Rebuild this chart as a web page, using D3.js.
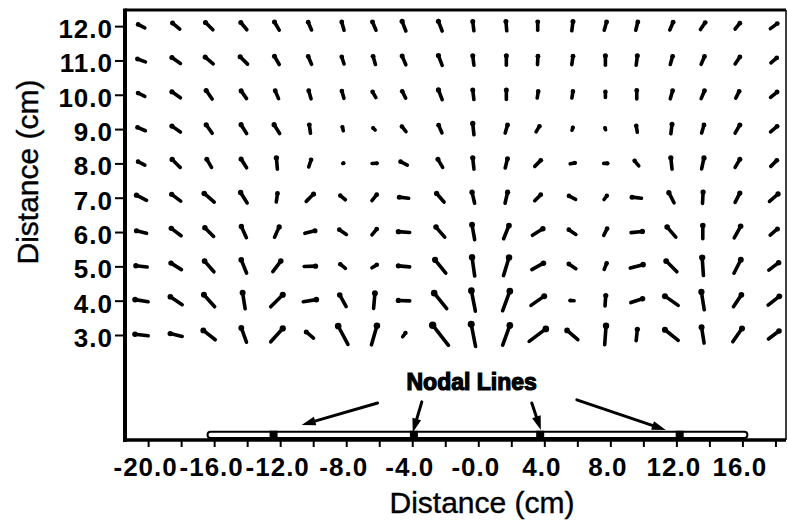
<!DOCTYPE html>
<html>
<head>
<meta charset="utf-8">
<script src="https://cdn.jsdelivr.net/npm/d3@7"></script>
<style>
  html, body { margin: 0; padding: 0; background: #fff; }
  svg { display: block; }
  text { font-family: "Liberation Sans", Arial, Helvetica, sans-serif; fill: #000; }
</style>
</head>
<body>
<svg id="chart" width="788" height="526"></svg>
<script>
// Measurement grid: horizontal position of each column (cm) and row heights (cm)
const colX = [-20.4, -18.3, -16.3, -14.2, -12.2, -10.2, -8.2, -6.3, -4.5, -2.3,
              -0.3, 1.7, 3.6, 5.7, 7.7, 9.6, 11.7, 13.6, 15.7, 17.9];
const rowY = [12, 11, 10, 9, 8, 7, 6, 5, 4, 3];

// Direction of the needle head, degrees clockwise from vertical (one array per row)
const angle12 = [-63, -50, -45, -40, -30, -23, -16, -23, -21, -21, -7, -5, 0, 7, 16, 14, 23, 34, 39, 54];
const angle11 = [-70, -55, -50, -45, -30, -23, -18, -16, -23, -21, -7, 0, 3, 8, 0, 7, 16, 23, 34, 50];
const angle10 = [-63, -55, -35, -35, -23, -16, -16, -30, -27, -21, -7, 0, 9, 9, 0, 0, 16, 23, 27, 50];
const angle9  = [-67, -55, -35, -32, -32, -8, -14, -45, -39, -23, -6, 16, 31, 18, -18, -9, 7, 16, 30, 50];
const angle8  = [-63, -45, -30, -32, -5, 18, 70, 88, -63, -30, -6, 14, 45, 79, 90, -39, -6, 12, 30, 45];
const angle7  = [-63, -53, -49, -32, 8, 45, -51, 39, -83, -41, -13, 13, 45, -63, 37, -83, -27, 3, 27, 49];
const angle6  = [-76, -53, -45, -24, 24, 76, -56, 39, -86, -41, -10, 22, 58, -56, 27, 84, -41, 0, 29, 50];
const angle5  = [-84, -58, -41, -22, 37, 88, -51, 59, -85, -39, -8, 17, 61, -56, 22, 75, -45, -4, 27, 53];
const angle4  = [-81, -56, -42, -9, 45, 81, -29, 5, -88, -39, -11, 20, 55, -85, 4, 72, -55, -9, 34, 52];
const angle3  = [-84, -77, -52, -20, 42, -50, -28, 16, 37, -38, -11, 20, 53, -49, 4, 6, -51, -9, 35, 53];

// Relative amplitude at each grid point (one array per row)
const amp12 = [1.1, 1.3, 1.4, 1.3, 1.3, 1.2, 1.2, 1.25, 1.4, 1.4, 1.3, 1.3, 1.2, 1.3, 1.2, 1.2, 1.2, 1.2, 1.1, 1.2];
const amp11 = [1.2, 1.4, 1.4, 1.4, 1.3, 1.2, 1.1, 1.2, 1.3, 1.4, 1.3, 1.3, 1.2, 1.2, 1.3, 1.3, 1.2, 1.2, 1.2, 1.1];
const amp10 = [1.1, 1.4, 1.4, 1.3, 1.2, 1.2, 1.1, 1.0, 1.1, 1.4, 1.3, 1.3, 1.0, 1.0, 0.9, 1.2, 1.2, 1.2, 1.1, 1.2];
const amp9  = [1.2, 1.4, 1.4, 1.4, 1.4, 1.2, 0.7, 0.6, 1.0, 1.2, 1.5, 1.2, 1.0, 0.6, 0.5, 1.0, 1.3, 1.2, 1.3, 1.2];
const amp8  = [1.1, 1.5, 1.3, 1.4, 1.5, 1.1, 0.4, 0.8, 1.1, 1.3, 1.5, 1.3, 1.2, 0.8, 0.7, 1.0, 1.5, 1.5, 1.3, 1.2];
const amp7  = [1.5, 1.5, 1.7, 1.6, 1.2, 1.4, 1.0, 1.1, 1.3, 1.5, 1.5, 1.5, 1.2, 1.1, 0.8, 1.3, 1.5, 1.5, 1.4, 1.5];
const amp6  = [1.4, 1.6, 1.6, 1.6, 1.5, 1.4, 1.2, 1.1, 1.5, 1.7, 1.9, 1.8, 1.6, 1.2, 1.1, 1.5, 1.7, 1.7, 1.7, 1.3];
const amp5  = [1.5, 1.6, 1.8, 1.8, 1.7, 1.5, 1.0, 0.9, 1.5, 2.1, 2.3, 2.3, 1.7, 1.2, 1.0, 1.7, 1.9, 2.2, 1.9, 1.6];
const amp4  = [1.7, 1.8, 2.0, 2.0, 2.1, 1.7, 1.7, 1.9, 1.5, 2.4, 2.5, 2.5, 2.0, 0.7, 1.4, 1.6, 2.0, 2.2, 1.8, 1.8];
const amp3  = [1.7, 1.6, 1.9, 1.9, 2.2, 1.3, 2.5, 2.4, 0.8, 3.0, 2.7, 2.5, 2.5, 1.8, 2.3, 1.5, 2.1, 2.0, 2.0, 1.7];

const angleRows = [angle12, angle11, angle10, angle9, angle8, angle7, angle6, angle5, angle4, angle3];
const ampRows = [amp12, amp11, amp10, amp9, amp8, amp7, amp6, amp5, amp4, amp3];

// Axis ticks
const xTickValues = [-20, -18, -16, -14, -12, -10, -8, -6, -4, -2, 0, 2, 4, 6, 8, 10, 12, 14, 16, 18];
const xTickLabels = ["-20.0", "", "-16.0", "", "-12.0", "", "-8.0", "", "-4.0", "", "-0.0", "",
                     "4.0", "", "8.0", "", "12.0", "", "16.0", ""];
const yTickValues = [3, 4, 5, 6, 7, 8, 9, 10, 11, 12];
const yTickLabels = ["3.0", "4.0", "5.0", "6.0", "7.0", "8.0", "9.0", "10.0", "11.0", "12.0"];

// Source strip and its nodal lines (cm)
const stripExtent = [-16.4, 16.3];
const stripHeight = [0, 0.18];
const nodalX = [-12.4, -3.9, 3.75, 12.2];
const calloutText = "Nodal Lines";
const calloutPos = [-0.4, 1.4];
const calloutFrom = [[-6.1, 1.02], [-3.42, 1.05], [3.24, 1.02], [5.97, 1.11]];
const calloutTo   = [[-10.7, 0.38], [-3.97, 0.16], [3.79, 0.23], [11.36, 0.23]];

const svg = d3.select("#chart");
const plotLeft = 125, plotRight = 786, plotTop = 10, plotBottom = 440;

const x = d3.scaleLinear().domain([-21.4, 18.64]).range([plotLeft, plotRight]);
const y = d3.scaleLinear().domain([-0.06, 12.47]).range([plotBottom, plotTop]);
const len = d3.scaleLinear().domain([0, 1]).range([0, 10]);

// Axes
const xAxis = d3.axisBottom(x)
  .tickValues(xTickValues)
  .tickSize(7)
  .tickPadding(11)
  .tickFormat((d, i) => xTickLabels[i]);
const gx = svg.append("g").attr("transform", `translate(0,${plotBottom})`).call(xAxis);
gx.select(".domain").remove();
gx.selectAll(".tick line").attr("stroke", "#000").attr("stroke-width", 2);
gx.selectAll(".tick text")
  .attr("font-size", 26).attr("font-weight", "bold").attr("letter-spacing", 1)
  .attr("dx", -3)
  .attr("font-family", '"Liberation Sans", Arial, sans-serif').attr("fill", "#000");

const yAxis = d3.axisLeft(y)
  .tickValues(yTickValues)
  .tickSize(10)
  .tickPadding(2)
  .tickFormat((d, i) => yTickLabels[i]);
const gy = svg.append("g").attr("transform", `translate(${plotLeft},0)`).call(yAxis);
gy.select(".domain").remove();
gy.selectAll(".tick line").attr("stroke", "#000").attr("stroke-width", 2);
gy.selectAll(".tick text")
  .attr("font-size", 26).attr("font-weight", "bold").attr("dy", "0.44em").attr("letter-spacing", 1)
  .attr("font-family", '"Liberation Sans", Arial, sans-serif').attr("fill", "#000");

// Plot frame
svg.append("line").attr("x1", plotLeft).attr("x2", plotRight).attr("y1", plotTop).attr("y2", plotTop)
  .attr("stroke", "#000").attr("stroke-width", 3);
svg.append("line").attr("x1", plotRight).attr("x2", plotRight).attr("y1", plotTop).attr("y2", plotBottom)
  .attr("stroke", "#000").attr("stroke-width", 1.5);
svg.append("line").attr("x1", plotLeft).attr("x2", plotLeft).attr("y1", plotTop - 1.5).attr("y2", plotBottom + 2)
  .attr("stroke", "#000").attr("stroke-width", 4);
svg.append("line").attr("x1", plotLeft).attr("x2", plotRight).attr("y1", plotBottom).attr("y2", plotBottom)
  .attr("stroke", "#000").attr("stroke-width", 3.5);

// Axis titles
svg.append("text").attr("x", 482).attr("y", 513).attr("text-anchor", "middle")
  .attr("font-size", 30).attr("stroke", "#000").attr("stroke-width", 0.4).text("Distance (cm)");
svg.append("text").attr("transform", "translate(38,172) rotate(-90)").attr("text-anchor", "middle")
  .attr("font-size", 30).attr("stroke", "#000").attr("stroke-width", 0.4).text("Distance (cm)");

// Needle field
const needles = [];
rowY.forEach((ry, r) => {
  colX.forEach((cx, c) => {
    needles.push({ x: cx, y: ry, a: angleRows[r][c], m: ampRows[r][c] });
  });
});

const gN = svg.append("g");
needles.forEach(d => {
  const L = len(d.m);
  const t = d.a * Math.PI / 180;
  const ux = Math.sin(t), uy = -Math.cos(t);
  const px = x(d.x), py = y(d.y);
  const hr = 1.6 + L * 0.07;
  const hx = px + ux * (L / 2 - hr * 0.7), hy = py + uy * (L / 2 - hr * 0.7);
  const tx = px - ux * (L / 2 - 1.8), ty = py - uy * (L / 2 - 1.8);
  gN.append("line")
    .attr("x1", tx).attr("y1", ty).attr("x2", hx).attr("y2", hy)
    .attr("stroke", "#000").attr("stroke-width", 3.6).attr("stroke-linecap", "round");
  gN.append("circle").attr("cx", hx).attr("cy", hy).attr("r", hr).attr("fill", "#000");
});

// Source strip with nodal lines
svg.append("rect")
  .attr("x", x(stripExtent[0])).attr("y", y(stripHeight[1]))
  .attr("width", x(stripExtent[1]) - x(stripExtent[0]))
  .attr("height", y(stripHeight[0]) - y(stripHeight[1]))
  .attr("rx", 3)
  .attr("fill", "#fff").attr("stroke", "#000").attr("stroke-width", 2);
svg.selectAll(".node").data(nodalX).enter().append("rect")
  .attr("class", "node")
  .attr("x", d => x(d) - 4).attr("y", y(stripHeight[1]) - 1)
  .attr("width", 8).attr("height", y(stripHeight[0]) - y(stripHeight[1]) + 2)
  .attr("fill", "#000");

// Callout arrows
calloutFrom.forEach((f, i) => {
  const to = calloutTo[i];
  const x1 = x(f[0]), y1 = y(f[1]), x2 = x(to[0]), y2 = y(to[1]);
  const dx = x2 - x1, dy = y2 - y1, n = Math.hypot(dx, dy);
  const ux = dx / n, uy = dy / n;
  const hl = 14, hw = 4.5;
  const bx = x2 - ux * hl, by = y2 - uy * hl;
  svg.append("line").attr("x1", x1).attr("y1", y1).attr("x2", bx + ux * 2).attr("y2", by + uy * 2)
    .attr("stroke", "#000").attr("stroke-width", 3).attr("stroke-linecap", "round");
  svg.append("path")
    .attr("d", `M${x2},${y2}L${bx - uy * hw},${by + ux * hw}L${bx + uy * hw},${by - ux * hw}Z`)
    .attr("fill", "#000");
});
svg.append("text")
  .attr("x", x(calloutPos[0])).attr("y", y(calloutPos[1]))
  .attr("text-anchor", "middle").attr("font-size", 23).attr("font-weight", "bold")
  .attr("stroke", "#000").attr("stroke-width", 1.2)
  .text(calloutText);
</script>
</body>
</html>
